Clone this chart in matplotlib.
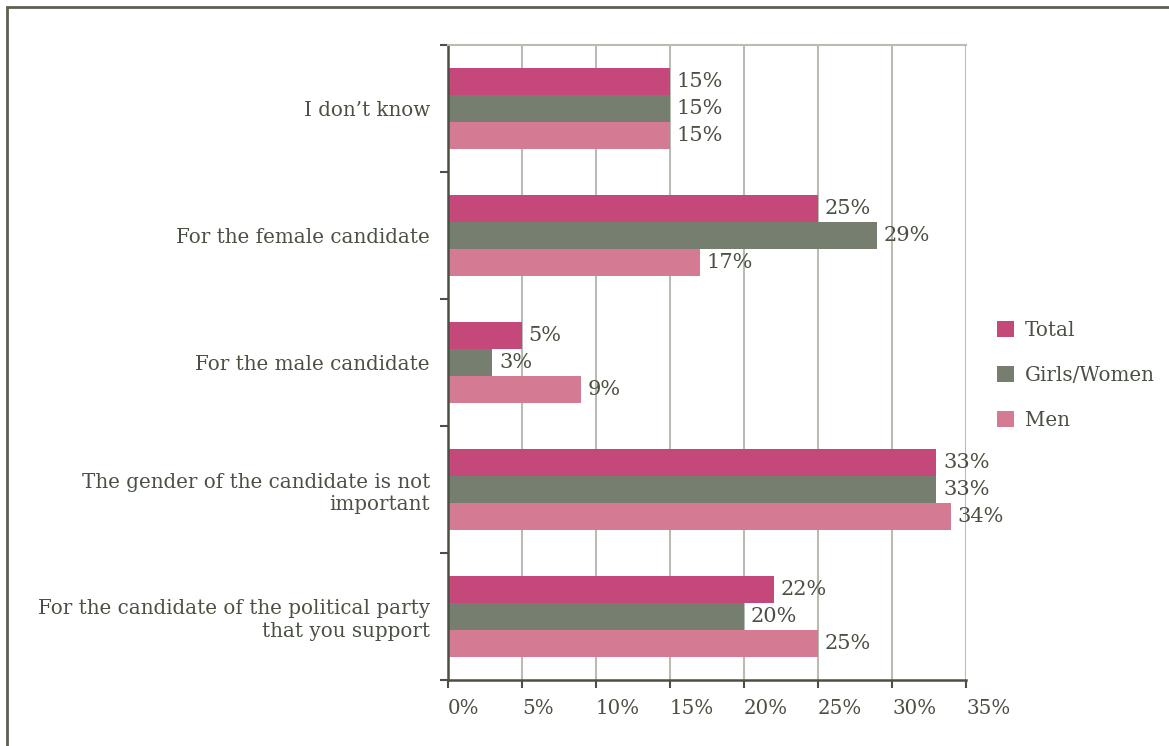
import matplotlib.pyplot as plt
import matplotlib.patches as mpatches

categories = ["I don\u2019t know",
              "For the female candidate",
              "For the male candidate",
              "The gender of the candidate is not\nimportant",
              "For the candidate of the political party\nthat you support"]
total = [15, 25, 5, 33, 22]
girls_women = [15, 29, 3, 33, 20]
men = [15, 17, 9, 34, 25]
series_names = ["Total", "Girls/Women", "Men"]
xticks = [0, 5, 10, 15, 20, 25, 30, 35]

colors = ["#C4487A", "#767E70", "#D57A93"]
txt = "#4A5142"
fs = 14.3
plt.rcParams['font.family'] = ['DejaVu Serif']

fig = plt.figure(figsize=(11.69, 7.46), dpi=100)
ax = fig.add_axes([448/1169, 1 - 680/746, 518/1169, 635/746])

h = 0.215
offsets = [-h, 0, h]
for vals, off, col, name in zip([total, girls_women, men], offsets, colors, series_names):
    ys = [i + off for i in range(len(categories))]
    ax.barh(ys, vals, height=h, color=col, label=name, zorder=2)
    for y, v in zip(ys, vals):
        ax.text(v + 0.45, y, f"{v}%", va="center", ha="left", fontsize=fs + 0.7, color=txt, zorder=3)

ax.set_xlim(0, 35)
ax.set_ylim(len(categories) - 0.5, -0.5)
ax.set_xticks(xticks)
ax.set_xticklabels([f"{t}%" for t in xticks], fontsize=fs, color=txt, ha="left")
ax.set_yticks(range(len(categories)))
ax.set_yticklabels(categories, fontsize=fs, color=txt, ha="right", linespacing=1.25)
ax.set_yticks([i - 0.5 for i in range(len(categories) + 1)], minor=True)
ax.tick_params(axis="y", which="major", length=0, pad=13)
ax.tick_params(axis="y", which="minor", length=6, width=1.5, color="#4A5142", direction="out")
ax.tick_params(axis="x", length=6, width=1.5, color="#4A5142", direction="out", pad=8)

ax.grid(axis="x", color="#B7BDB3", linewidth=1.5, zorder=0)
ax.spines["top"].set_color("#B7BDB3")
ax.spines["top"].set_linewidth(1.5)
ax.spines["right"].set_visible(False)
for side in ["left", "bottom"]:
    ax.spines[side].set_color("#4A5142")
    ax.spines[side].set_linewidth(1.8)

leg = fig.legend(loc="upper left", bbox_to_anchor=(979/1169, 1 - 303/746), frameon=False,
                 fontsize=fs, handlelength=0.85, handleheight=0.85, handletextpad=0.55,
                 labelspacing=1.3, labelcolor=txt)

# outer frame
fig.patches.append(mpatches.Rectangle((7/1169, -0.02), 1.1, 1 - 7/746 + 0.02,
                                      transform=fig.transFigure, fill=False,
                                      edgecolor="#5A6152", linewidth=2))

fig.savefig("out.png", dpi=100)
